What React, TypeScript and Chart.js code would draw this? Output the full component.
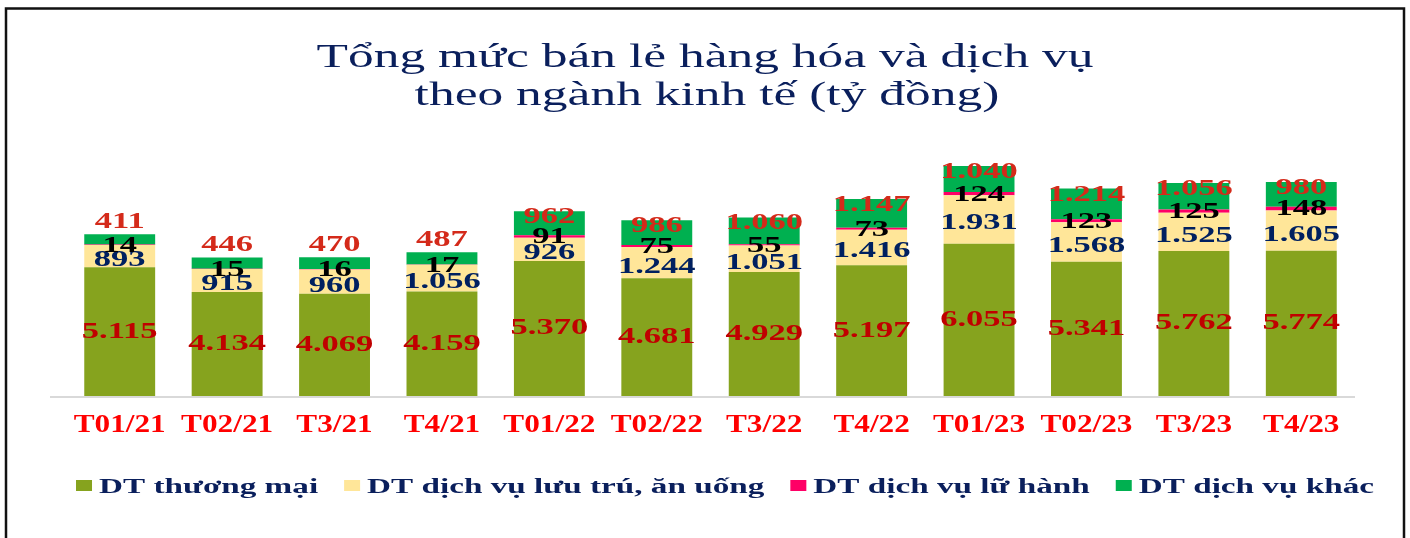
import React, { useEffect, useRef } from "react";
import { Chart, registerables } from "chart.js";

Chart.register(...registerables);

// ---------- DATA ----------
const categories = ["T01/21", "T02/21", "T3/21", "T4/21", "T01/22", "T02/22", "T3/22", "T4/22", "T01/23", "T02/23", "T3/23", "T4/23"];
const thuongMai = [5115, 4134, 4069, 4159, 5370, 4681, 4929, 5197, 6055, 5341, 5762, 5774];
const luuTruAnUong = [893, 915, 960, 1056, 926, 1244, 1051, 1416, 1931, 1568, 1525, 1605];
const luHanh = [14, 15, 16, 17, 91, 75, 55, 73, 124, 123, 125, 148];
const dichVuKhac = [411, 446, 470, 487, 962, 986, 1060, 1147, 1040, 1214, 1056, 980];

const seriesNames = ["DT thương mại", "DT dịch vụ lưu trú, ăn uống", "DT dịch vụ lữ hành", "DT dịch vụ khác"];
const titleLines = ["Tổng mức bán lẻ hàng hóa và dịch vụ", "theo ngành kinh tế (tỷ đồng)"];

// ---------- STYLE ----------
const seriesColors = ["#86A31E", "#FFE699", "#FF0066", "#00B050"];
const labelColors = ["#C00000", "#002060", "#000000", "#D42A1A"];
const SERIF = '"Liberation Serif", "Times New Roman", serif';

const fmt = (v: number) => String(v).replace(/\B(?=(\d{3})+(?!\d))/g, ".");

function stretchText(ctx: CanvasRenderingContext2D, text: string, x: number, y: number, sx: number, align: CanvasTextAlign) {
  ctx.save();
  ctx.translate(x, y);
  ctx.scale(sx, 1);
  ctx.textAlign = align;
  ctx.fillText(text, 0, 0);
  ctx.restore();
}

const framePlugin = {
  id: "frameAndText",
  beforeDraw(chart: any) {
    const { ctx, width, height } = chart;
    ctx.save();
    ctx.fillStyle = "#FFFFFF";
    ctx.fillRect(0, 0, width, height);
    // frame
    ctx.strokeStyle = "#111111";
    ctx.lineWidth = 2.5;
    ctx.beginPath();
    ctx.moveTo(6, height + 5);
    ctx.lineTo(6, 8.5);
    ctx.lineTo(1404, 8.5);
    ctx.lineTo(1404, height + 5);
    ctx.stroke();
    // title
    ctx.fillStyle = "#0A1F5C";
    ctx.font = `33px ${SERIF}`;
    ctx.textBaseline = "alphabetic";
    stretchText(ctx, titleLines[0], width / 2, 67, 1.56, "center");
    stretchText(ctx, titleLines[1], width / 2 + 2, 105, 1.56, "center");
    ctx.restore();
  },
  beforeDatasetsDraw(chart: any) {
    const { ctx, chartArea } = chart;
    ctx.save();
    ctx.strokeStyle = "#D9D9D9";
    ctx.lineWidth = 2;
    ctx.beginPath();
    ctx.moveTo(chartArea.left - 16, chartArea.bottom + 1);
    ctx.lineTo(chartArea.right, chartArea.bottom + 1);
    ctx.stroke();
    ctx.restore();
  },
  afterDatasetsDraw(chart: any) {
    const { ctx, width } = chart;
    ctx.save();
    // data labels
    ctx.font = `bold 23px ${SERIF}`;
    ctx.textBaseline = "middle";
    chart.data.datasets.forEach((ds: any, i: number) => {
      const meta = chart.getDatasetMeta(i);
      meta.data.forEach((el: any, j: number) => {
        const { x, y, base } = el.getProps(["x", "y", "base"], true);
        const h = base - y;
        let ly = (y + base) / 2;
        if (i === 1) ly += 4;
        if (i === 2) ly += 1;
        if (i === 3) ly = h >= 20 ? y + 6 : y - 12;
        ctx.fillStyle = labelColors[i];
        stretchText(ctx, fmt(ds.data[j]), x, ly, 1.5, "center");
      });
    });
    // x tick labels
    const xs = chart.scales.x;
    ctx.font = `bold 25px ${SERIF}`;
    ctx.textBaseline = "alphabetic";
    ctx.fillStyle = "#FF0000";
    categories.forEach((c, j) => {
      stretchText(ctx, c, xs.getPixelForValue(j), 432, 1.25, "center");
    });
    // legend
    const sx = 1.66;
    ctx.font = `bold 20px ${SERIF}`;
    const mw = 16, mh = 11, gapMT = 7, gapItem = 26;
    const widths = seriesNames.map((n) => ctx.measureText(n).width * sx);
    const total = widths.reduce((a, w) => a + mw + gapMT + w, 0) + gapItem * (seriesNames.length - 1);
    let lx = width / 2 + 20 - total / 2;
    const base = 493;
    seriesNames.forEach((n, i) => {
      ctx.fillStyle = seriesColors[i];
      ctx.fillRect(lx, base - 13, mw, mh);
      lx += mw + gapMT;
      ctx.fillStyle = "#0A1F5C";
      stretchText(ctx, n, lx, base, sx, "left");
      lx += widths[i] + gapItem;
    });
    ctx.restore();
  },
};

export default function App() {
  const ref = useRef<HTMLCanvasElement | null>(null);
  useEffect(() => {
    document.body.style.margin = "0";
    const canvas = ref.current!;
    const seriesData = [thuongMai, luuTruAnUong, luHanh, dichVuKhac];
    const chart = new Chart(canvas, {
      type: "bar",
      data: {
        labels: categories,
        datasets: seriesData.map((d, i) => ({
          label: seriesNames[i],
          data: d,
          backgroundColor: seriesColors[i],
          borderWidth: 0,
          barPercentage: 0.66,
          categoryPercentage: 1,
        })),
      },
      options: {
        responsive: false,
        animation: false,
        devicePixelRatio: 1,
        layout: { padding: { left: 66, right: 55, top: 144.5, bottom: 142 } },
        plugins: {
          legend: { display: false },
          title: { display: false },
          tooltip: { enabled: false },
        },
        scales: {
          x: { stacked: true, display: false },
          y: { stacked: true, display: false, min: 0, max: 10000 },
        },
      },
      plugins: [framePlugin],
    });
    return () => chart.destroy();
  }, []);
  return (
    <div style={{ width: 1410, height: 538 }}>
      <canvas ref={ref} width={1410} height={538} style={{ display: "block" }} />
    </div>
  );
}
